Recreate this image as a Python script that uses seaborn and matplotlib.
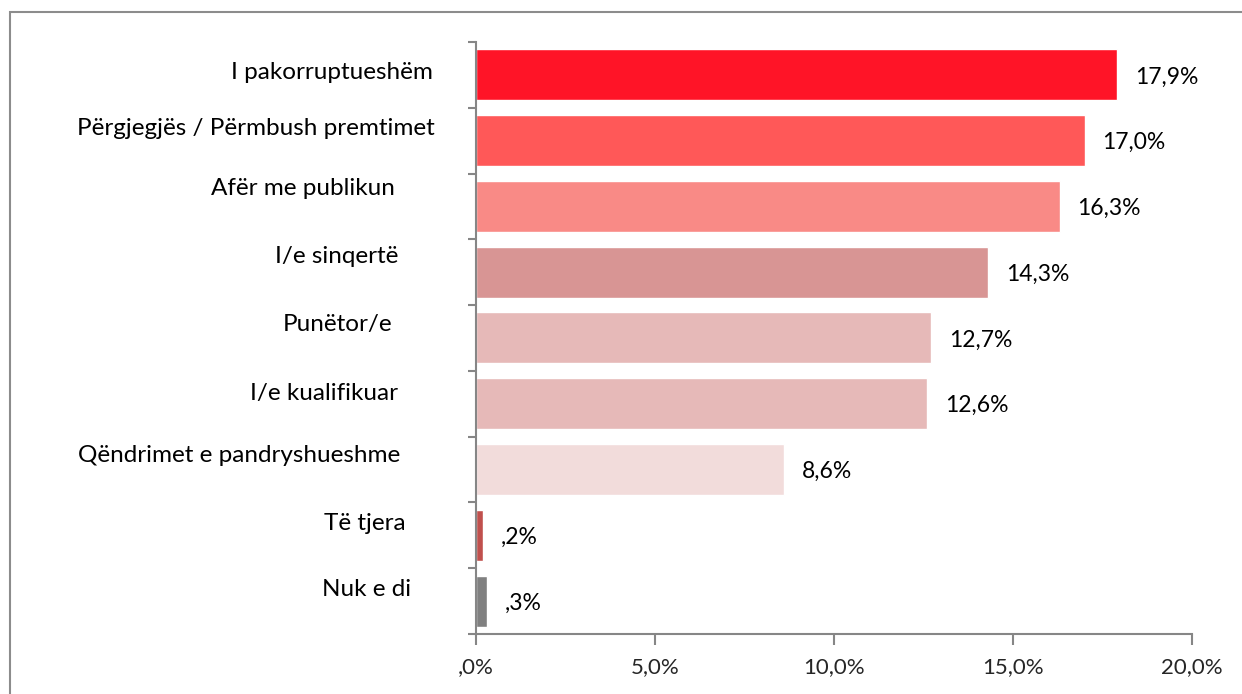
import matplotlib
matplotlib.use('Agg')
import matplotlib.pyplot as plt
import matplotlib.patches as patches
from matplotlib.ticker import FuncFormatter
import seaborn as sns
import pandas as pd

sns.set_style('white')
plt.rcParams['font.family'] = ['Lato', 'DejaVu Sans']

# ── Data ────────────────────────────────────────────────────────────────────
categories = ['I pakorruptueshëm', 'Përgjegjës / Përmbush premtimet', 'Afër me publikun',
              'I/e sinqertë', 'Punëtor/e', 'I/e kualifikuar',
              'Qëndrimet e pandryshueshme', 'Të tjera', 'Nuk e di']
values = [17.9, 17.0, 16.3, 14.3, 12.7, 12.6, 8.6, 0.2, 0.3]
value_labels = ['17,9%', '17,0%', '16,3%', '14,3%', '12,7%', '12,6%', '8,6%', ',2%', ',3%']
colors = ['#FF1427', '#FF5858', '#F98A86', '#D89594', '#E6B9B8', '#E6B9B8',
          '#F2DCDB', '#C0504D', '#808080']

# label placement (right edge in axes fraction, vertical shift in category units)
label_x = [-0.060, -0.057, -0.114, -0.109, -0.117, -0.109, -0.106, -0.099, -0.091]
label_dy = [-0.03, -0.18, -0.27, -0.24, -0.21, -0.15, -0.21, -0.18, -0.18]

df = pd.DataFrame({'cat': categories, 'val': values})

fig = plt.figure(figsize=(12.42, 6.94), dpi=100)
ax = fig.add_axes([0.3833, 0.0865, 0.5765, 0.853])

sns.barplot(data=df, x='val', y='cat', hue='cat', palette=colors, orient='h',
            width=0.775, legend=False, ax=ax, saturation=1)

ax.set_xlim(0, 20)
ax.set_ylim(len(categories) - 0.5, -0.5)
ax.set_xticks([0, 5, 10, 15, 20])
ax.xaxis.set_major_formatter(FuncFormatter(
    lambda v, p: ',0%' if v == 0 else f'{v:.1f}%'.replace('.', ',')))
ax.set_yticks([i - 0.5 for i in range(len(categories) + 1)])
ax.set_yticklabels([])
ax.set_xlabel('')
ax.set_ylabel('')

for s in ['top', 'right']:
    ax.spines[s].set_visible(False)
for s in ['left', 'bottom']:
    ax.spines[s].set_color('#868686')
    ax.spines[s].set_linewidth(1.5)
ax.tick_params(axis='x', bottom=True, length=8, width=1.5, color='#868686',
               labelsize=16, pad=9)
ax.tick_params(axis='y', left=True, length=6, width=1.5, color='#868686')

# category labels
ytr = ax.get_yaxis_transform()
for i, (cat, lx, dy) in enumerate(zip(categories, label_x, label_dy)):
    ax.text(lx, i + dy, cat, transform=ytr, ha='right', va='center',
            fontsize=17.5, color='black')

# value labels
for i, (v, lab) in enumerate(zip(values, value_labels)):
    ax.text(v + 0.5, i + 0.03, lab, ha='left', va='center', fontsize=16.5, color='black')

# outer chart border
fig.patches.append(patches.Rectangle((10 / 1242, -0.1), 1.2, 1 - 12 / 694 + 0.1,
                                     transform=fig.transFigure, fill=False,
                                     edgecolor='#8c8c8c', linewidth=1.5))

plt.savefig('out.png', dpi=100)
